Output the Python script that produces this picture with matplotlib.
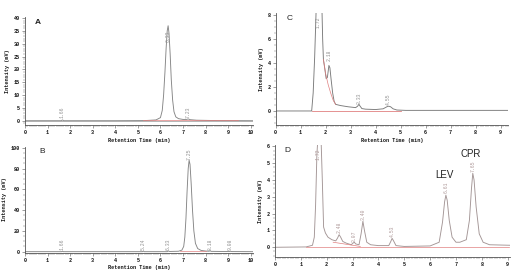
import matplotlib.pyplot as plt
from matplotlib.ticker import MultipleLocator

# ---- panel A (standard 1)
a_time = [0, 1.60, 1.66, 1.72, 4.0, 5.3, 5.8, 6.00, 6.08, 6.14, 6.20, 6.25, 6.30, 6.34,
          6.38, 6.43, 6.48, 6.54, 6.60, 6.68, 6.80, 7.00, 7.15, 7.23, 7.32, 7.6, 8.5, 10.1]
a_int = [0, 0, 0.3, 0, 0, 0.05, 0.3, 1.2, 4.0, 10, 19, 28, 35, 37,
         34, 26, 16, 8, 3.5, 1.5, 0.8, 0.5, 0.5, 0.7, 0.4, 0.2, 0.05, 0]
a_base_t = [5.24, 9.44]
a_base_y = [0.15, 0.15]
a_peak_t = [1.66, 6.34, 7.23]
a_peak_txt = ["1.66", "6.33", "7.23"]

# ---- panel B (standard 2)
b_time = [0, 1.62, 1.66, 1.70, 5.20, 5.24, 5.28, 6.30, 6.35, 6.40, 6.80, 6.95, 7.03, 7.08,
          7.13, 7.18, 7.23, 7.27, 7.31, 7.36, 7.42, 7.48, 7.55, 7.65, 7.80, 8.0, 8.15,
          8.2, 8.25, 9.05, 9.1, 9.15, 10.1]
b_int = [0, 0, 0.4, 0, 0, 0.6, 0, 0, 0.7, 0.2, 0.4, 1.5, 5, 14,
         32, 58, 80, 88, 84, 66, 40, 20, 8, 3, 1.2, 0.6, 0.4,
         0.8, 0.3, 0.1, 0.4, 0.1, 0]
b_base_t = [6.85, 8.0]
b_base_y = [0.3, 0.3]
b_peak_t = [1.66, 5.24, 6.36, 7.27, 8.2, 9.1]
b_peak_txt = ["1.66", "5.24", "6.33", "7.25", "8.18", "9.08"]

# ---- panel C (blank sample)
c_time = [0, 1.44, 1.50, 1.56, 1.62, 1.64, 1.84, 1.88, 1.91, 1.96, 2.02, 2.07, 2.13, 2.17,
          2.22, 2.28, 2.34, 2.40, 2.60, 2.9, 3.2, 3.28, 3.33, 3.38, 3.45, 3.6, 4.0, 4.3,
          4.45, 4.52, 4.6, 4.7, 4.85, 5.2, 9.3]
c_int = [0, 0, 1.5, 4.5, 8.5, 9.5, 9.5, 6.0, 4.3, 3.6, 2.7, 2.8, 3.8, 3.6,
         2.6, 1.5, 0.8, 0.55, 0.45, 0.35, 0.28, 0.4, 0.55, 0.4, 0.2, 0.15, 0.12, 0.18,
         0.35, 0.4, 0.35, 0.18, 0.08, 0.05, 0.05]
c_base_t = [1.44, 5.0]
c_base_y = [0, 0]
c_tail_t = [1.91, 2.0, 2.1, 2.2, 2.3, 2.4]
c_tail_y = [4.3, 3.1, 2.2, 1.5, 0.9, 0.55]
c_peak_t = [1.68, 2.15, 3.33, 4.52]
c_peak_txt = ["1.72", "2.18", "3.33", "4.55"]

# ---- panel D (sample with LEV and CPR)
d_time = [0, 1.2, 1.45, 1.52, 1.57, 1.62, 1.66, 1.72, 1.78, 1.83, 1.88, 1.95, 2.05, 2.2,
          2.35, 2.42, 2.48, 2.54, 2.62, 2.75, 2.95, 3.02, 3.07, 3.12, 3.25, 3.33, 3.40,
          3.46, 3.55, 3.7, 4.0, 4.4, 4.48, 4.53, 4.58, 4.68, 5.0, 6.0, 6.35, 6.48, 6.56,
          6.61, 6.66, 6.74, 6.85, 7.0, 7.15, 7.4, 7.52, 7.60, 7.65, 7.70, 7.78, 7.9, 8.05,
          8.3, 9.09]
d_int = [0, 0.02, 0.12, 0.6, 2.5, 5.5, 6.5, 6.5, 6.5, 4.0, 1.2, 0.85, 0.6, 0.45,
         0.38, 0.55, 0.75, 0.6, 0.35, 0.25, 0.15, 0.25, 0.3, 0.2, 0.15, 0.8, 1.55,
         1.0, 0.3, 0.15, 0.1, 0.1, 0.35, 0.53, 0.4, 0.1, 0.05, 0.08, 0.3, 1.5, 2.7,
         3.1, 2.8, 1.6, 0.6, 0.3, 0.3, 0.45, 1.6, 3.5, 4.4, 4.0, 2.4, 0.8, 0.3,
         0.15, 0.12]
d_base_t = [1.2, 9.05]
d_base_y = [0, 0]
d_tail_t = [2.25, 3.3]
d_tail_y = [0.3, 0.05]
d_peak_t = [1.67, 2.48, 3.07, 3.40, 4.53, 6.61, 7.65]
d_peak_txt = ["1.72", "2.48", "3.07", "3.40", "4.53", "6.61", "7.65"]

W, H = 515, 272
TRACE = "#858585"
RED = "#e08080"
MONO = "Liberation Mono"


def make_axes(fig, left, top, right, bottom):
    # box given in pixels of the 515x272 picture
    return fig.add_axes([left / W, 1 - bottom / H, (right - left) / W, (bottom - top) / H])


def style_axes(ax, xlim, ylim, ymaj, ymin, xlabel=True):
    ax.set_xlim(*xlim)
    ax.set_ylim(*ylim)
    for s in ["top", "right"]:
        ax.spines[s].set_visible(False)
    for s in ["left", "bottom"]:
        ax.spines[s].set_linewidth(0.6)
        ax.spines[s].set_color("#555555")
    ax.xaxis.set_major_locator(MultipleLocator(1))
    ax.xaxis.set_minor_locator(MultipleLocator(0.1))
    ax.yaxis.set_major_locator(MultipleLocator(ymaj))
    ax.yaxis.set_minor_locator(MultipleLocator(ymin))
    ax.tick_params(which="major", length=2.2, width=0.4, color="#555555", pad=1.5,
                   labelsize=3.7, labelcolor="#111111")
    ax.tick_params(which="minor", length=1.1, width=0.3, color="#666666")
    for lab in ax.get_xticklabels() + ax.get_yticklabels():
        lab.set_family(MONO)
        lab.set_weight("bold")
    ax.set_ylabel("Intensity (mV)", family=MONO, weight="bold", fontsize=3.7,
                  color="#111111", labelpad=2.5)
    if xlabel:
        ax.set_xlabel("Retention Time (min)", family=MONO, weight="bold", fontsize=3.7,
                      color="#111111", labelpad=2)
    ax.patch.set_alpha(0)


def peak_labels(ax, times, texts, ys, color="#909090"):
    for t, txt, y in zip(times, texts, ys):
        ax.text(t, y, txt, rotation=90, fontsize=3.4, family=MONO, color=color,
                ha="center", va="bottom")


fig = plt.figure(figsize=(W / 100, H / 100), dpi=100)

# A
ax = make_axes(fig, 25, 17, 253, 125)
ax.plot(a_time, a_int, color=TRACE, lw=0.65)
ax.plot([0, 10.1], [0, 0], color="#999999", lw=0.5)
ax.plot(a_base_t, a_base_y, color=RED, lw=0.5)
style_axes(ax, (0, 10.1), (-1.67, 40.4), 5, 1)
peak_labels(ax, a_peak_t, a_peak_txt, [1.0, 30.5, 1.0])
ax.text(0.45, 38.3, "A", fontsize=6, family="Liberation Sans", weight="bold",
        color="#222222", va="center")

# B
ax = make_axes(fig, 25, 146.7, 253, 252.5)
ax.plot(b_time, b_int, color=TRACE, lw=0.65)
ax.plot(b_base_t, b_base_y, color=RED, lw=0.5)
style_axes(ax, (0, 10.1), (-0.8, 101), 20, 5)
peak_labels(ax, b_peak_t, b_peak_txt, [1.5, 1.5, 1.5, 88.5, 1.5, 1.5])
ax.text(0.65, 96.5, "B", fontsize=6, family="Liberation Sans", color="#222222",
        va="center")

# C
ax = make_axes(fig, 275.7, 13, 508, 125)
ax.plot(c_time, c_int, color="#7a7a7a", lw=0.65)
ax.plot(c_base_t, c_base_y, color=RED, lw=0.6)
ax.plot(c_tail_t, c_tail_y, color=RED, lw=0.5)
style_axes(ax, (0, 9.3), (-1.17, 8.17), 2, 0.5)
peak_labels(ax, c_peak_t, c_peak_txt, [6.9, 4.2, 0.6, 0.5])
ax.text(0.42, 7.7, "C", fontsize=6, family="Liberation Sans", color="#222222",
        va="center")

# D
ax = make_axes(fig, 275, 145, 510, 256.7)
ax.plot(d_time, d_int, color="#a39595", lw=0.65)
ax.plot(d_base_t, d_base_y, color=RED, lw=0.5)
ax.plot(d_tail_t, d_tail_y, color=RED, lw=0.5)
style_axes(ax, (0, 9.09), (-0.56, 6.08), 1, 0.25, xlabel=False)
peak_labels(ax, d_peak_t, d_peak_txt, [5.2, 0.85, 0.3, 1.65, 0.6, 3.2, 4.5],
            color="#ad9797")
ax.text(0.35, 5.75, "D", fontsize=6, family="Liberation Sans", color="#222222",
        va="center")
ax.text(6.54, 4.3, "LEV", fontsize=7, family="Liberation Sans", color="#222222",
        ha="center", va="center")
ax.text(7.58, 5.55, "CPR", fontsize=7, family="Liberation Sans", color="#222222",
        ha="center", va="center")

fig.savefig("out.png", dpi=100)
